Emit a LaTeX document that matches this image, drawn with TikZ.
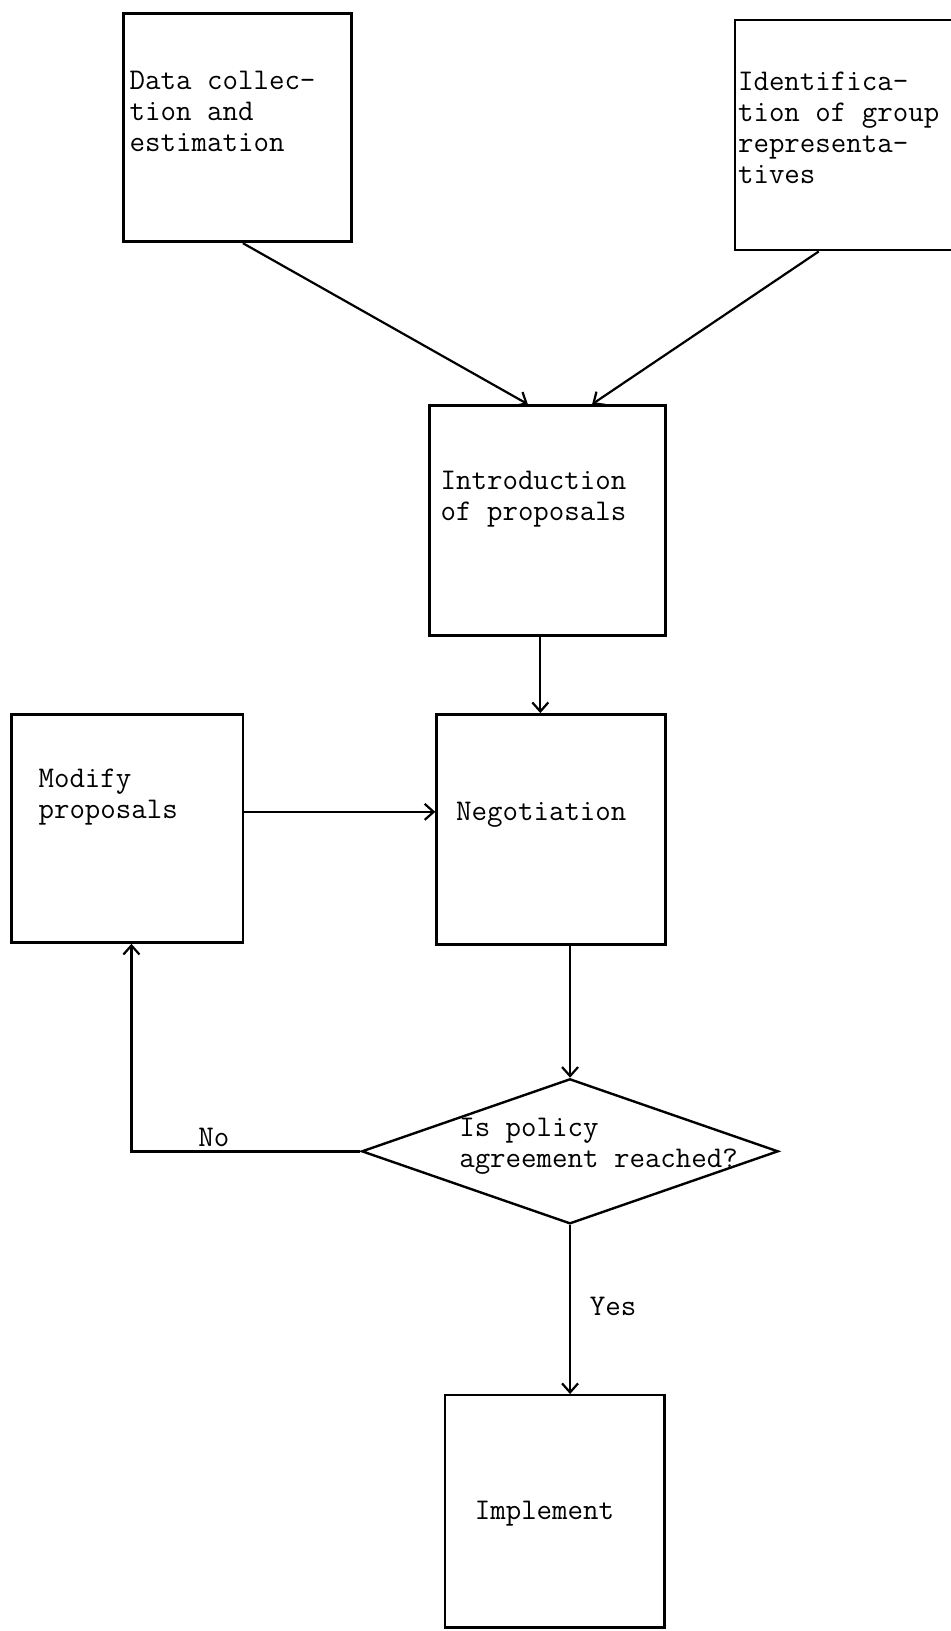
\documentclass[tikz,border=0pt]{standalone}
\usepackage{fontspec}
\usetikzlibrary{arrows.meta,shapes.geometric,calc}
\begin{document}
\begin{tikzpicture}[x=1pt,y=-1pt,scale=1.0363,every node/.append style={transform shape},
  box/.style={draw,line width=2.6pt,rectangle,anchor=north west,inner sep=0pt},
  lbl/.style={anchor=base west,inner sep=0pt,align=left,font=\ttfamily\fontsize{29}{30}\selectfont},
  conn/.style={line width=2.2pt,-{Straight Barb[length=9pt,width=16pt]}}]
\useasboundingbox (0,0) rectangle (917.7,1573.9);
\clip (0,0) rectangle (917.7,1573.9);
\fill[white] (0,0) rectangle (917.7,1573.9);
% boxes
\node[box,minimum width=220pt,minimum height=220pt] (data) at (118,12) {};
\node[box,minimum width=240pt,minimum height=222pt] (ident) at (708,18) {};
\node[box,minimum width=228pt,minimum height=222pt] (intro) at (413,390) {};
\node[box,minimum width=221pt,minimum height=222pt] (neg) at (420,688) {};
\node[box,minimum width=223pt,minimum height=220pt] (mod) at (10,688) {};
\node[box,minimum width=212pt,minimum height=224pt] (impl) at (428,1345) {};
\node[draw,line width=2.4pt,shape=diamond,inner sep=0pt,minimum width=402pt,minimum height=140pt] (dec) at (550,1111) {};
% texts (anchored at the baseline of the last line)
\node[lbl] (tdata) at (125,146) {Data collec-\\tion and\\estimation};
\node[lbl] (tident) at (712,177) {Identifica-\\tion of group\\representa-\\tives};
\node[lbl] (tintro) at (425,502) {Introduction\\of proposals};
\node[lbl] (tneg) at (440,792) {Negotiation};
\node[lbl] (tmod) at (37,790) {Modify\\proposals};
\node[lbl] (tdec) at (443,1127) {Is policy\\agreement reached?};
\node[lbl] (timpl) at (458,1466) {Implement};
% connectors
\draw[conn] ([xshift=5pt]data.south) -- ([xshift=-19pt]intro.north);
\draw[conn] ([xshift=82pt]ident.south west) -- ([xshift=43pt]intro.north);
\draw[conn] ([xshift=-7pt]intro.south) -- ([xshift=-7pt]intro.south |- neg.north);
\draw[conn] ([yshift=16pt]mod.east) -- ([yshift=16pt]mod.east -| neg.west);
\draw[conn] (neg.south -| dec.north) -- (dec.north);
\draw[conn] (dec.west) -| node[pos=0.32,above=4pt,lbl,anchor=south] (tno) {No} ([xshift=4pt]mod.south);
\draw[conn] (dec.south) -- node[pos=0.48,right=18pt,lbl,anchor=west] (tyes) {Yes} (dec.south |- impl.north);
\end{tikzpicture}
\end{document}
